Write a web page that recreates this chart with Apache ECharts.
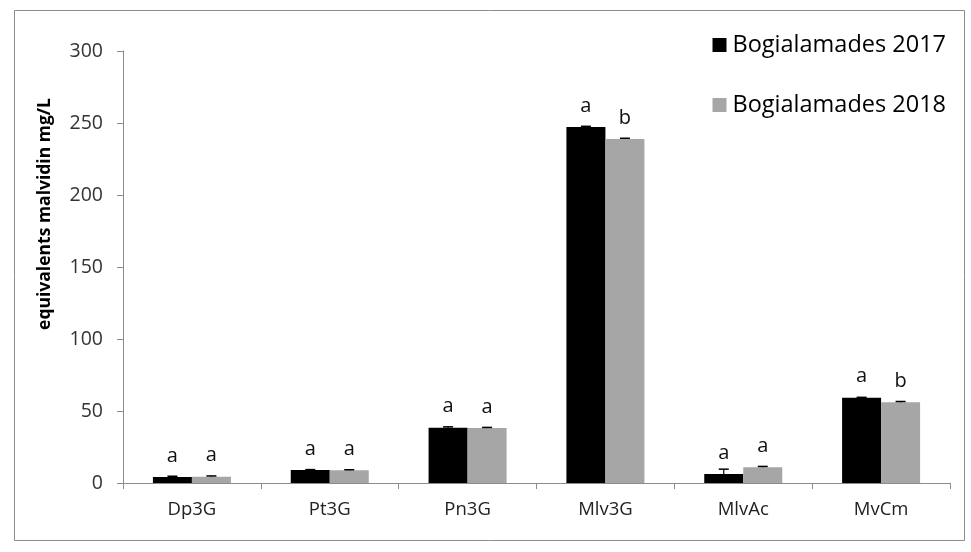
<!DOCTYPE html>
<html><head><meta charset="utf-8">
<script src="https://cdn.jsdelivr.net/npm/echarts@6/dist/echarts.min.js"></script>
<style>html,body{margin:0;padding:0;background:#fff}#c{width:971px;height:552px}</style>
</head><body><div id="c"></div>
<script>
const categories = ['Dp3G','Pt3G','Pn3G','Mlv3G','MlvAc','MvCm'];
const values2017 = [4.2, 9.0, 38.4, 247.2, 6.3, 59.2];
const values2018 = [4.4, 8.8, 38.2, 238.9, 10.9, 56.0];
const err2017 = [0.5, 0.3, 0.6, 0.5, 3.3, 0.3];
const err2018 = [0.5, 0.4, 0.4, 0.5, 0.6, 0.6];
const letters2017 = ['a','a','a','a','a','a'];
const letters2018 = ['a','a','a','b','a','b'];
const yTicks = [0, 50, 100, 150, 200, 250, 300];
const yAxisTitle = 'equivalents malvidin mg/L';

const FONT = '"Open Sans", sans-serif';
const chart = echarts.init(document.getElementById('c'));

function errSeries(vals, errs, idx) {
  return {
    type: 'custom', z: 5, silent: true,
    data: vals.map((v, i) => [i, v, errs[i]]),
    renderItem: function (params, api) {
      const i = api.value(0), v = api.value(1), e = api.value(2);
      const bw = 39;
      const cx = api.coord([i, 0])[0] + (idx === 0 ? -bw / 2 : bw / 2);
      const top = api.coord([i, v + e])[1];
      const mid = api.coord([i, v])[1];
      return {
        type: 'group',
        children: [
          {type: 'line', shape: {x1: cx, y1: mid, x2: cx, y2: top}, style: {stroke: '#000', lineWidth: 1.2}},
          {type: 'line', shape: {x1: cx - 5, y1: top, x2: cx + 5, y2: top}, style: {stroke: '#000', lineWidth: 1.5}}
        ]
      };
    }
  };
}

chart.setOption({
  animation: false,
  graphic: [{
    type: 'rect', shape: {x: 14.5, y: 10.5, width: 950, height: 530},
    style: {fill: 'none', stroke: '#8c8c8c', lineWidth: 1}, silent: true
  }, {
    type: 'text', x: 45, y: 214, rotation: Math.PI / 2, silent: true,
    style: {text: yAxisTitle, fontFamily: FONT, fontSize: 17.5, fontWeight: 'bold', fill: '#000',
      align: 'center', verticalAlign: 'middle'}
  }],
  grid: {left: 123, right: 21, top: 51, bottom: 69},
  legend: {
    orient: 'vertical', right: 20, top: 28, itemGap: 36,
    itemWidth: 14, itemHeight: 14, icon: 'rect',
    textStyle: {fontFamily: FONT, fontSize: 23.5, color: '#000', padding: [0, 0, 0, 1]},
    data: ['Bogialamades 2017', 'Bogialamades 2018']
  },
  xAxis: {
    type: 'category', data: categories,
    axisLine: {lineStyle: {color: '#8c8c8c', width: 1}},
    axisTick: {show: true, length: 6, inside: false, lineStyle: {color: '#8c8c8c'}},
    axisLabel: {fontFamily: FONT, fontSize: 18.5, color: '#222', margin: 17}
  },
  yAxis: {
    type: 'value', min: 0, max: 300, interval: 50,
    axisLine: {show: true, lineStyle: {color: '#8c8c8c'}},
    axisTick: {show: true, length: 6, lineStyle: {color: '#8c8c8c'}},
    axisLabel: {fontFamily: FONT, fontSize: 19.5, color: '#333', margin: 20,
      formatter: v => yTicks.includes(v) ? String(v) : ''},
    splitLine: {show: false}
  },
  series: [
    {
      name: 'Bogialamades 2017', type: 'bar', barWidth: 39, barGap: '0%',
      itemStyle: {color: '#000'},
      data: values2017.map((v, i) => ({value: v, label: {formatter: letters2017[i]}})),
      label: {show: true, position: 'top', distance: 11, fontFamily: FONT, fontSize: 20, color: '#111'}
    },
    {
      name: 'Bogialamades 2018', type: 'bar', barWidth: 39, barGap: '0%',
      itemStyle: {color: '#a6a6a6'},
      data: values2018.map((v, i) => ({value: v, label: {formatter: letters2018[i]}})),
      label: {show: true, position: 'top', distance: 11, fontFamily: FONT, fontSize: 20, color: '#111'}
    },
    errSeries(values2017, err2017, 0),
    errSeries(values2018, err2018, 1)
  ]
});
</script></body></html>
